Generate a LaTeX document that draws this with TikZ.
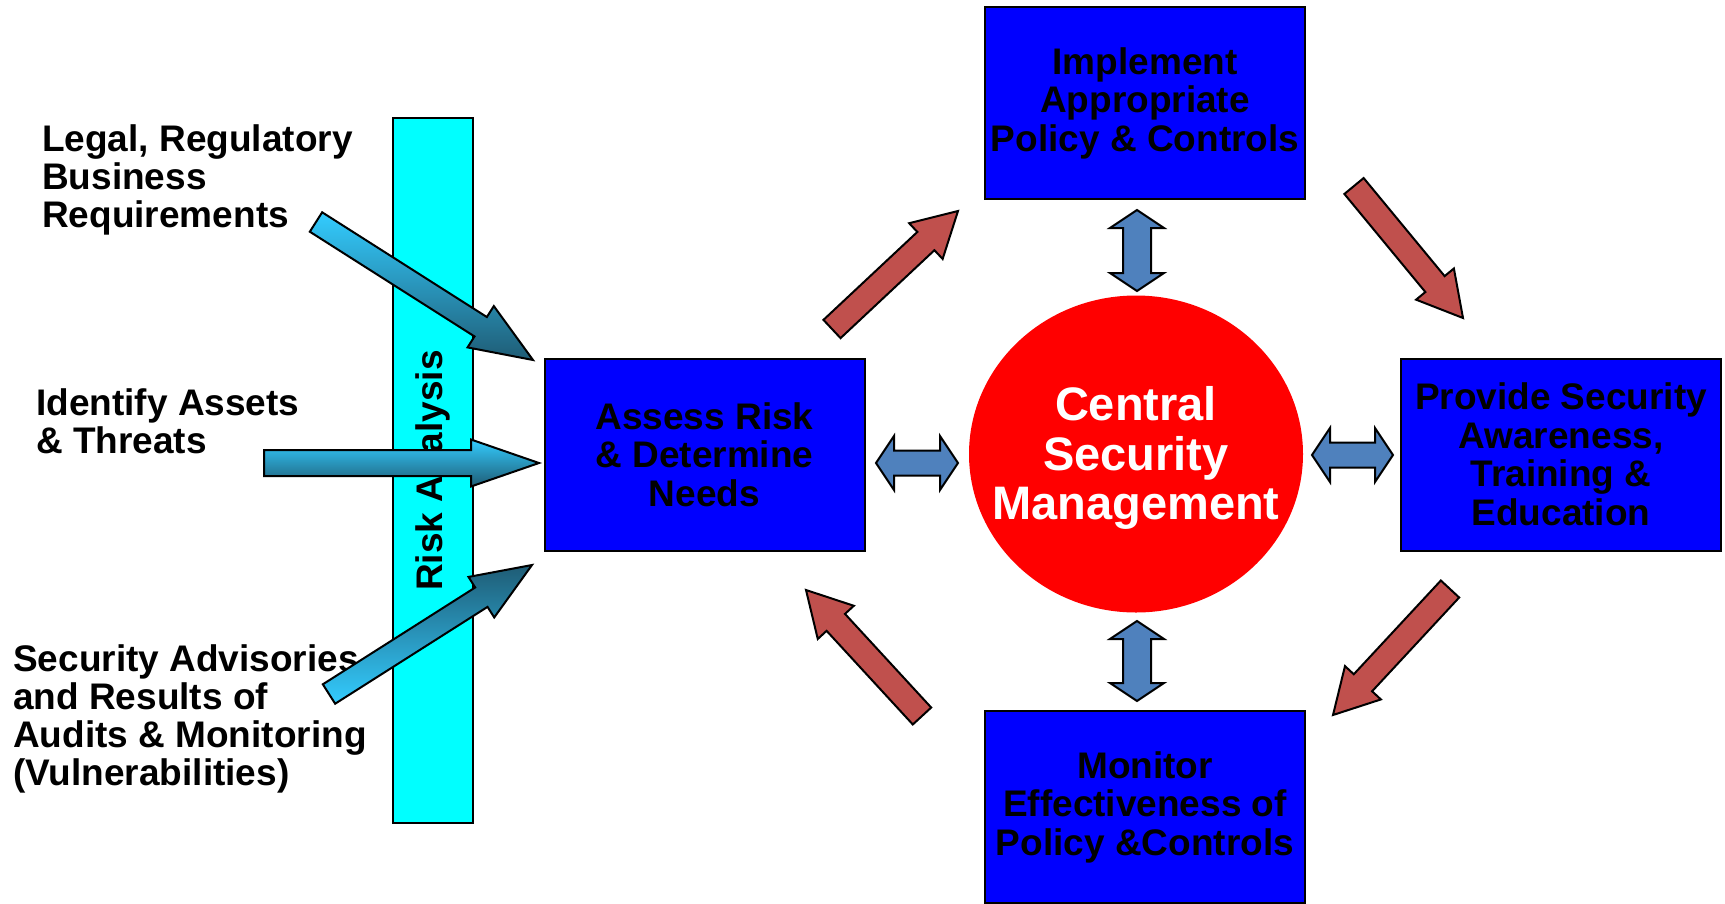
\documentclass[tikz,border=0pt]{standalone}
\usepackage{fontspec}
\setmainfont{Liberation Sans}
\usepackage{tikz}
\usetikzlibrary{shapes.geometric, calc}

\definecolor{boxblue}{RGB}{0,0,255}
\definecolor{hubred}{RGB}{255,0,0}
\definecolor{barcyan}{RGB}{0,255,255}
\definecolor{cyclered}{RGB}{192,80,77}
\definecolor{linkblue}{RGB}{79,129,189}
\definecolor{feedlight}{RGB}{51,204,255}
\definecolor{feeddark}{RGB}{31,92,117}

\tikzset{
  % Boxes and labels
  task/.style={rectangle, draw=black, line width=2pt, fill=boxblue, minimum width=320pt, minimum height=192pt, align=center, inner sep=0pt, font=\bfseries\fontsize{37}{38.5}\selectfont},
  hub/.style={ellipse, fill=hubred, minimum width=334pt, minimum height=317pt, inner sep=0pt},
  hubtext/.style={text=white, align=center, inner sep=0pt, yshift=-4pt, font=\bfseries\fontsize{47}{49.5}\selectfont},
  riskbar/.style={rectangle, draw=black, line width=2pt, fill=barcyan, inner sep=0pt, font=\bfseries\fontsize{37}{38.5}\selectfont},
  inlabel/.style={anchor=north west, align=left, inner sep=0pt, font=\bfseries\fontsize{37}{38}\selectfont},
  % Block arrows
  cyclearrow/.style={draw=black, line width=2pt, fill=cyclered},
  linkarrow/.style={draw=black, line width=2pt, fill=linkblue},
  feedarrow/.style={draw=black, line width=2pt, top color=#1, bottom color=feeddark},
  feedarrow/.default={feedlight},
  backfeed/.style={draw=black, line width=2pt, top color=feeddark, bottom color=feedlight},
}

% block arrow: [style]{tail}{tip}{shaft half width}{head half width}{head length}
\newcommand{\blockarrow}[6][]{%
  \coordinate (ba-n) at ($(#3)!#6!(#2)$);
  \draw[#1] ($(#2)!#4!90:(#3)$) -- ($(ba-n)!#4!90:(#3)$) -- ($(ba-n)!#5!90:(#3)$)
    -- (#3) -- ($(ba-n)!#5!-90:(#3)$) -- ($(ba-n)!#4!-90:(#3)$)
    -- ($(#2)!#4!-90:(#3)$) -- cycle;}

% two-headed block arrow: [style]{end a}{end b}{shaft half width}{head half width}{head length}
\newcommand{\twowayarrow}[6][]{%
  \coordinate (tw-a) at ($(#2)!#6!(#3)$);
  \coordinate (tw-b) at ($(#3)!#6!(#2)$);
  \draw[#1] (#2) -- ($(tw-a)!#5!90:(#3)$) -- ($(tw-a)!#4!90:(#3)$)
    -- ($(tw-b)!#4!-90:(#2)$) -- ($(tw-b)!#5!-90:(#2)$) -- (#3)
    -- ($(tw-b)!#5!90:(#2)$) -- ($(tw-b)!#4!90:(#2)$)
    -- ($(tw-a)!#4!-90:(#3)$) -- ($(tw-a)!#5!-90:(#3)$) -- cycle;}

\begin{document}
\begin{tikzpicture}[x=1pt, y=-1pt]
    \useasboundingbox (0,0) rectangle (1725,903);

    % Risk analysis bar
    \node[riskbar, rotate=90, minimum width=705pt, minimum height=80pt] (bar) at (433,470.5) {Risk Analysis};

    % Inputs
    \node[inlabel] (legal) at (42,124) {Legal, Regulatory\\Business\\Requirements};
    \node[inlabel] (assets) at (36,388) {Identify Assets\\\& Threats};
    \node[inlabel] (audits) at (13,644) {Security Advisories\\and Results of\\Audits \& Monitoring\\(Vulnerabilities)};

    % Cycle
    \node[task] (assess) at (704.5,454.5) {Assess Risk\\\& Determine\\Needs};
    \node[task] (policy) at (1145,103) {Implement\\Appropriate\\Policy \& Controls};
    \node[task] (aware) at (1561,454.5) {Provide Security\\Awareness,\\Training \&\\Education};
    \node[task] (monitor) at (1145,807) {Monitor\\Effectiveness of\\Policy \&Controls};

    % Hub
    \node[hub, label={[hubtext]center:Central\\Security\\Management}] (central) at (1136,454) {};

    % Arrow ends
    \coordinate (in1) at (316,222);  \coordinate (in1t) at (533,360);
    \coordinate (in2) at (264,463);  \coordinate (in2t) at (539,463);
    \coordinate (in3) at (329,694);  \coordinate (in3t) at (532,565);
    \coordinate (cy1) at (832,329);  \coordinate (cy1t) at (958,211);
    \coordinate (cy2) at (1354,186); \coordinate (cy2t) at (1463,318);
    \coordinate (cy3) at (1450,589); \coordinate (cy3t) at (1333,715);
    \coordinate (cy4) at (922,716);  \coordinate (cy4t) at (806,590);
    \coordinate (lk1) at (1137,210); \coordinate (lk1t) at (1137,291);
    \coordinate (lk2) at (1137,621); \coordinate (lk2t) at (1137,701);
    \coordinate (lk3) at (876,463);  \coordinate (lk3t) at (958,463);
    \coordinate (lk4) at (1312,455); \coordinate (lk4t) at (1393,455);

    % Inputs into the assessment
    \blockarrow[feedarrow]{in1}{in1t}{11.5pt}{24.5pt}{62pt}
    \blockarrow[feedarrow]{in2}{in2t}{13pt}{23.5pt}{68pt}
    \blockarrow[backfeed]{in3}{in3t}{11.5pt}{24pt}{60pt}

    % Cycle arrows
    \blockarrow[cyclearrow]{cy1}{cy1t}{12.5pt}{24.5pt}{44pt}
    \blockarrow[cyclearrow]{cy2}{cy2t}{12.5pt}{24.5pt}{44pt}
    \blockarrow[cyclearrow]{cy3}{cy3t}{12.5pt}{24.5pt}{44pt}
    \blockarrow[cyclearrow]{cy4}{cy4t}{12.5pt}{24.5pt}{44pt}

    % Links to the hub
    \twowayarrow[linkarrow]{lk1}{lk1t}{14pt}{27pt}{18pt}
    \twowayarrow[linkarrow]{lk2}{lk2t}{14pt}{27pt}{18pt}
    \twowayarrow[linkarrow]{lk3}{lk3t}{12.5pt}{27pt}{18pt}
    \twowayarrow[linkarrow]{lk4}{lk4t}{12.5pt}{27pt}{18pt}
  \end{tikzpicture}
\end{document}
